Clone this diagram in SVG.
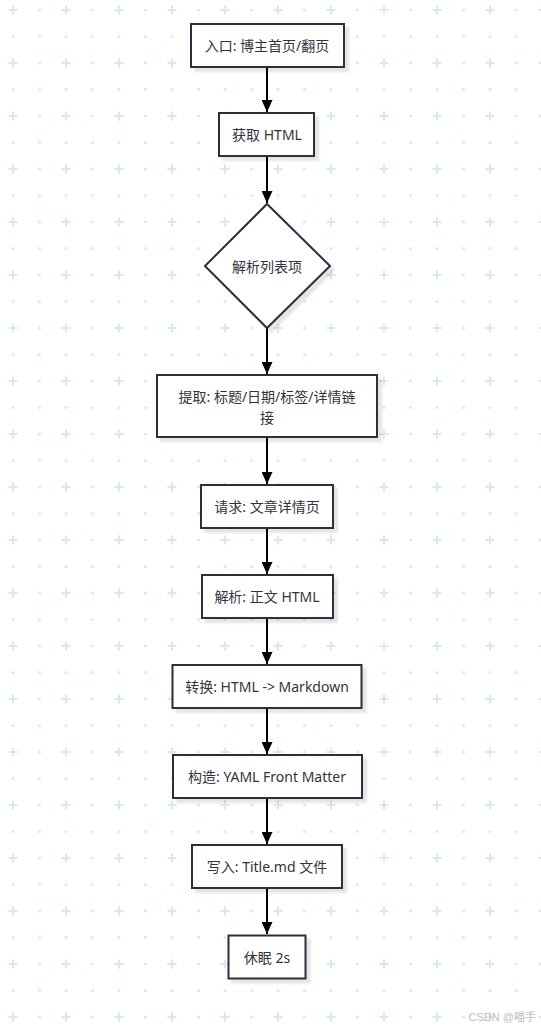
<svg xmlns="http://www.w3.org/2000/svg" width="541" height="1029" viewBox="0 0 541 1029">
<defs>
<pattern id="grid" x="0" y="0" width="53" height="53" patternUnits="userSpaceOnUse">
<path d="M13 5.5v9M8.5 10h9" stroke="#d3eaf0" stroke-width="2" fill="none"/>
<circle cx="39.5" cy="10" r="1.6" fill="#d6ecf1"/>
<circle cx="13" cy="36.5" r="1.6" fill="#d6ecf1"/>
<circle cx="39.5" cy="36.5" r="1.6" fill="#d6ecf1"/>
</pattern>
<filter id="sh" x="-10%" y="-10%" width="130%" height="140%">
<feDropShadow dx="4" dy="4" stdDeviation="1" flood-color="#000" flood-opacity="0.1"/>
</filter>
<marker id="arr" viewBox="0 0 12 11" refX="12" refY="5.5" markerWidth="12" markerHeight="11" markerUnits="userSpaceOnUse" orient="auto">
<path d="M0 0L12 5.5L0 11z" fill="#000"/>
</marker>
</defs>
<style>
.n rect,.n polygon{fill:#fff;stroke:#2e2d40;stroke-width:2;filter:url(#sh)}
.n text{font-family:"Noto Sans","Noto Sans CJK SC",sans-serif;font-size:14px;fill:#333340;text-anchor:middle;dominant-baseline:central}
.e path{stroke:#000;stroke-width:2;fill:none;marker-end:url(#arr)}
.wm{font-family:"Liberation Sans","Noto Sans CJK SC",sans-serif;font-size:11px;fill:#bdbdbd;text-anchor:end}
</style>
<rect width="541" height="1029" fill="#fff"/>
<rect width="541" height="1029" fill="url(#grid)"/>
<g id="edges" class="e">
<path d="M267 67V112"/>
<path d="M267 156V203"/>
<path d="M267 328V374"/>
<path d="M267 437V484"/>
<path d="M267 528V574"/>
<path d="M267 618V664"/>
<path d="M267 708V754"/>
<path d="M267 798V844"/>
<path d="M267 888V934"/>
</g>
<g id="n1" class="n"><rect x="191" y="24" width="153" height="43"/><text x="267" y="45.5">入口: 博主首页/翻页</text></g>
<g id="n2" class="n"><rect x="219" y="113" width="95" height="43"/><text x="267" y="134.5">获取 HTML</text></g>
<g id="n3" class="n"><polygon points="267,204 330,266 267,328 205,266"/><text x="267" y="266">解析列表项</text></g>
<g id="n4" class="n"><rect x="157" y="375" width="220" height="62"/><text x="267" y="396">提取: 标题/日期/标签/详情链</text><text x="267" y="417">接</text></g>
<g id="n5" class="n"><rect x="201" y="485" width="132" height="43"/><text x="267" y="506.5">请求: 文章详情页</text></g>
<g id="n6" class="n"><rect x="202" y="575" width="131" height="43"/><text x="267" y="596.5">解析: 正文 HTML</text></g>
<g id="n7" class="n"><rect x="172.5" y="665" width="189" height="43"/><text x="267" y="686.5">转换: HTML -&gt; Markdown</text></g>
<g id="n8" class="n"><rect x="173" y="755" width="189" height="43"/><text x="267" y="776.5">构造: YAML Front Matter</text></g>
<g id="n9" class="n"><rect x="192" y="845" width="150" height="43"/><text x="267" y="866.5">写入: Title.md 文件</text></g>
<g id="n10" class="n"><rect x="228.5" y="935.5" width="77" height="43"/><text x="267" y="957">休眠 2s</text></g>
<text class="wm" x="536" y="1021">CSDN @喵手</text>
</svg>
